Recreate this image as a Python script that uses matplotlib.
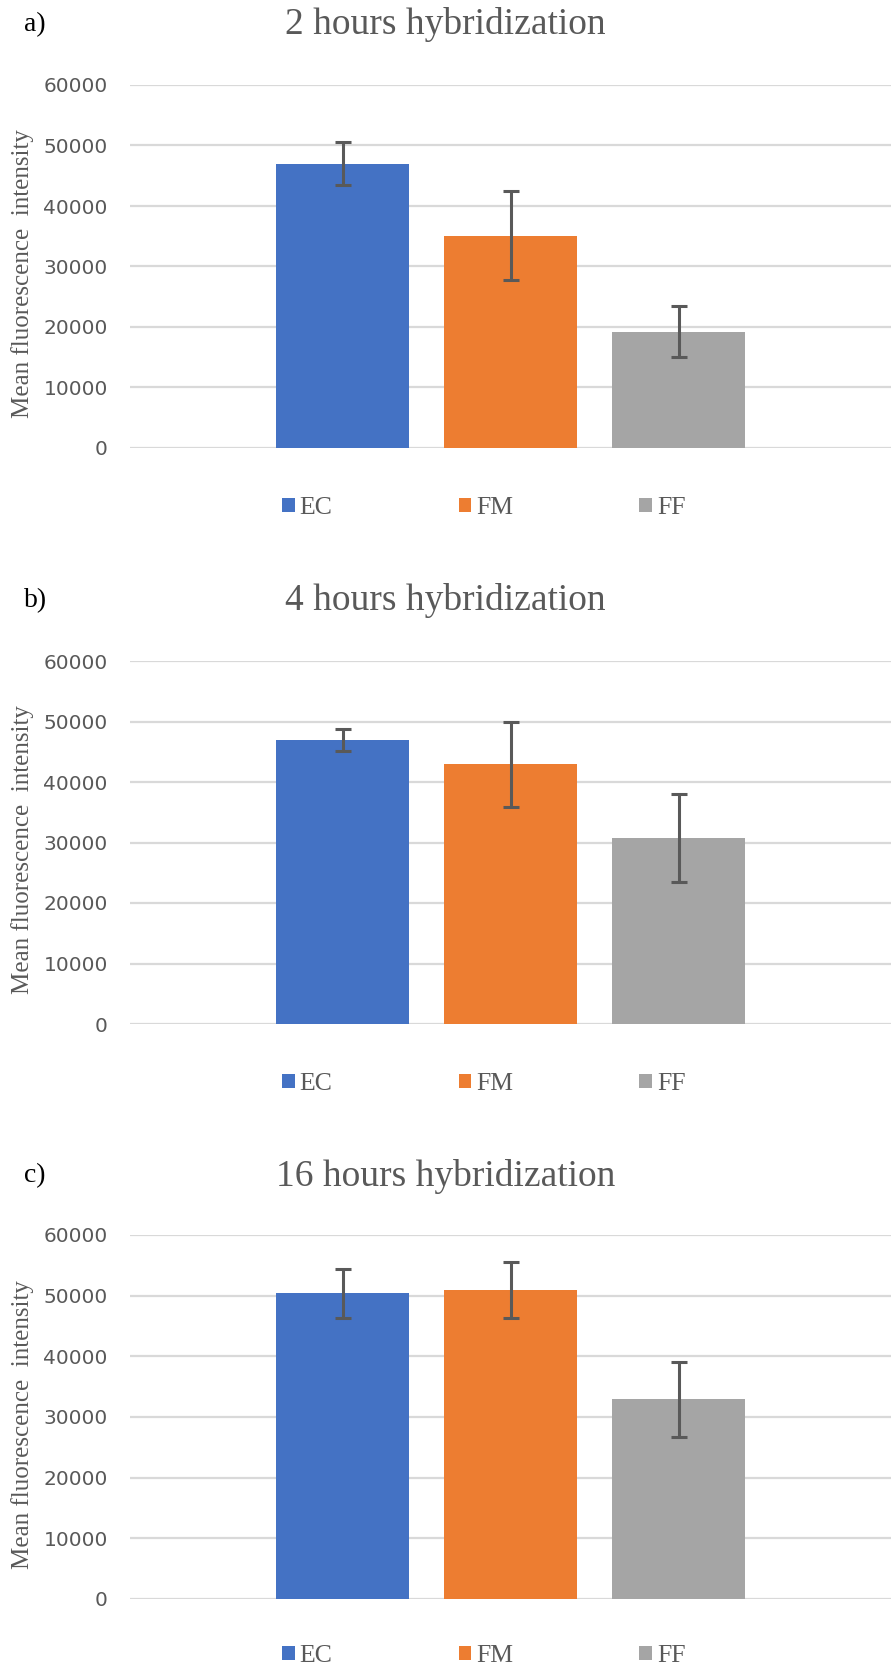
import matplotlib
matplotlib.use("Agg")
import matplotlib.pyplot as plt

# data
groups = ["EC", "FM", "FF"]
colors = ["#4472C4", "#ED7D31", "#A5A5A5"]
panel_tags = ["a)", "b)", "c)"]
titles = ["2 hours hybridization", "4 hours hybridization", "16 hours hybridization"]

means_2h = [47000, 35100, 19200]
errs_2h = [3500, 7400, 4200]
means_4h = [46900, 42900, 30700]
errs_4h = [1800, 7000, 7300]
means_16h = [50400, 50900, 32900]
errs_16h = [4000, 4600, 6200]

yticks = [0, 10000, 20000, 30000, 40000, 50000, 60000]

means = [means_2h, means_4h, means_16h]
errs = [errs_2h, errs_4h, errs_16h]

W, H = 891, 1675
fig = plt.figure(figsize=(W / 100, H / 100), dpi=100)

grey = "#595959"
# pixel rows of the 60000 and 0 gridlines, title and legend rows
top_px = [85, 661, 1235]
bot_px = [448, 1024, 1599]
title_px = [25, 601, 1176]
legend_px = [508, 1084, 1656]

for i in range(3):
    left = 130 / W
    ax = fig.add_axes([left, 1 - bot_px[i] / H, 1 - left, (bot_px[i] - top_px[i]) / H])
    x = list(range(len(groups)))
    for j in x:
        ax.bar(j, means[i][j], width=0.79, color=colors[j], label=groups[j], zorder=2)
    ax.errorbar(x, means[i], yerr=errs[i], fmt="none", ecolor=grey,
                elinewidth=2.2, capsize=5.8, capthick=2.2, zorder=3)

    ax.set_xlim(-1.265, 3.262)
    ax.set_ylim(0, 60000)
    ax.set_yticks(yticks)
    ax.set_yticklabels([str(t) for t in yticks])
    ax.set_xticks([])
    ax.tick_params(axis="y", length=0, pad=16, labelsize=14.5, labelcolor=grey)
    ax.grid(axis="y", color="#D9D9D9", linewidth=1.6, zorder=0)
    ax.set_axisbelow(True)
    for s in ax.spines.values():
        s.set_visible(False)

    ax.set_ylabel("Mean fluorescence  intensity", family="Liberation Serif",
                  fontsize=18, color=grey)
    ax.yaxis.set_label_coords(-0.126, 0.48)

    fig.text(0.5, 1 - title_px[i] / H, titles[i], ha="center", va="center",
             family="Liberation Serif", fontsize=27, color=grey)
    fig.text(24 / W, 1 - title_px[i] / H, panel_tags[i], ha="left", va="center",
             family="Liberation Serif", fontsize=20, color="black")

    leg = ax.legend(loc="center", bbox_to_anchor=(0.543, 1 - legend_px[i] / H),
                    bbox_transform=fig.transFigure, ncol=3, frameon=False,
                    prop={"family": "Liberation Serif", "size": 18.5},
                    handlelength=0.5, handleheight=0.5, handletextpad=0.2,
                    columnspacing=4.9)
    for t in leg.get_texts():
        t.set_color(grey)

fig.savefig("out.png", dpi=100)
